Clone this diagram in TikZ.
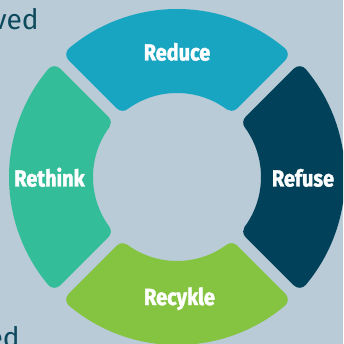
\documentclass[tikz,border=0pt]{standalone}
\usepackage{fontspec}
\setmainfont{Fira Sans}
\newfontfamily\segfont[FakeStretch=0.86,BoldFeatures={FakeBold=1.6}]{Fira Sans}
\usetikzlibrary{math}
\definecolor{bgblue}{HTML}{B8CBD6}
\definecolor{inkteal}{HTML}{0E4A5E}
\definecolor{reducecol}{HTML}{18A5C1}
\definecolor{refusecol}{HTML}{02415A}
\definecolor{rethinkcol}{HTML}{33BD99}
\definecolor{recyklecol}{HTML}{84C441}
\tikzset{
  seglabel/.style={text=white,font=\segfont\bfseries\fontsize{13.2}{14}\selectfont,anchor=base},
  sidetext/.style={text=inkteal,inner sep=0pt,font=\fontsize{16}{18}\selectfont,anchor=base east}
}

\begin{document}
\begin{tikzpicture}
    \coordinate (O) at (0,0);
    \clip (-3.54,-3.34) rectangle (3.32,3.54);
    \fill [bgblue] (-3.54,-3.34) rectangle (3.32,3.54);

    % ring radii, half gap and corner radius
    \def\rr{0.16}
    \pgfmathsetmacro{\ro}{3.36-\rr}
    \pgfmathsetmacro{\ri}{1.68+\rr}
    \pgfmathsetmacro{\gap}{0.12+\rr}
    \pgfmathsetmacro{\da}{asin(\gap/\ro)}
    \pgfmathsetmacro{\di}{asin(\gap/\ri)}

    % shrunk sectors, stroked wide with round joins
    \foreach \mid / \col in {90/reducecol, 0/refusecol, 180/rethinkcol, 270/recyklecol}
    {
      \filldraw [\col, line width=2*\rr cm, line join=round]
        (\mid-45+\di:\ri) -- (\mid-45+\da:\ro)
        arc [start angle=\mid-45+\da, end angle=\mid+45-\da, radius=\ro cm]
        -- (\mid+45-\di:\ri)
        arc [start angle=\mid+45-\di, end angle=\mid-45+\di, radius=\ri cm]
        -- cycle;
    }

    \node [seglabel] (reduce) at (0,2.33) {Reduce};
    \node [seglabel] (refuse) at (2.52,-0.19) {Refuse};
    \node [seglabel] (rethink) at (-2.55,-0.19) {Rethink};
    \node [seglabel] (recykle) at (0.05,-2.56) {Recykle};

    % cut-off words of the page text
    \node [sidetext] (topword) at (-2.76,2.94) {ved};
    \node [sidetext] (botword) at (-3.14,-3.40) {ed};
\end{tikzpicture}
\end{document}
